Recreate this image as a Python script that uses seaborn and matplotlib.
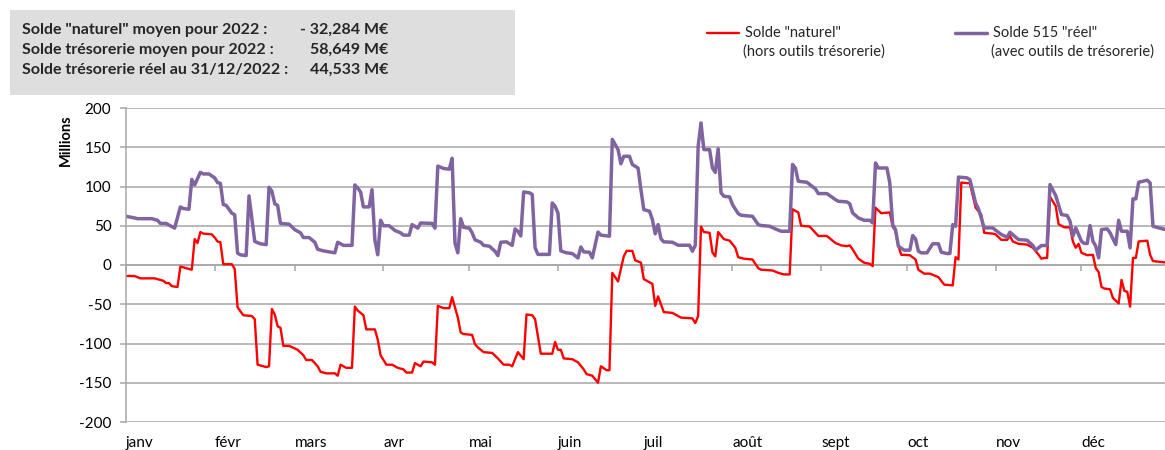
import matplotlib
matplotlib.use("Agg")
import matplotlib.pyplot as plt
import matplotlib.dates as mdates
from matplotlib.lines import Line2D
from matplotlib.patches import Rectangle
import numpy as np
import pandas as pd
import seaborn as sns

# ---- Données (jour de l'année 2022, 0 = 1er janvier ; montants en millions d'euros) ----
jours_naturel = [
    0, 3, 5, 10, 11, 13, 14, 15, 16, 18, 19, 21, 23, 24, 25, 26, 27, 30, 31, 32,
    33, 34, 37, 38, 39, 40, 41, 44, 45, 46, 47, 49, 50, 51, 52, 53, 54, 55, 57, 60,
    62, 63, 65, 67, 68, 70, 73, 74, 75, 77, 79, 80, 81, 83, 84, 87, 88, 89, 91, 93,
    95, 97, 98, 100, 101, 103, 104, 107, 108, 109, 111, 113, 114, 116, 117, 118, 121, 122, 123, 125,
    128, 130, 132, 134, 135, 137, 139, 140, 142, 143, 145, 149, 150, 151, 152, 153, 156, 158, 160, 161,
    163, 165, 166, 168, 169, 170, 172, 174, 175, 177, 178, 180, 181, 183, 184, 185, 186, 188, 191, 194,
    198, 199, 200, 201, 202, 204, 205, 206, 207, 209, 211, 213, 214, 216, 219, 221, 222, 226, 228, 230,
    232, 233, 235, 236, 239, 241, 242, 245, 248, 250, 252, 253, 254, 256, 258, 260, 261, 262, 264, 267,
    268, 269, 270, 271, 274, 276, 277, 279, 281, 283, 284, 286, 289, 290, 291, 292, 295, 297, 299, 300,
    303, 304, 306, 308, 309, 310, 312, 315, 317, 319, 320, 321, 322, 323, 325, 326, 328, 330, 331, 332,
    333, 334, 336, 338, 339, 340, 341, 342, 344, 345, 347, 348, 349, 350, 351, 352, 353, 354, 357, 358,
    359, 364,
]
solde_naturel = [
    -14, -14, -17, -17, -18, -20, -23, -23, -27, -28, -2, -4, -6, 33, 28, 42, 40, 39, 35, 30,
    29, 1, 1, -5, -54, -59, -64, -65, -69, -127, -128, -130, -129, -56, -63, -78, -80, -103, -103, -108,
    -115, -121, -121, -129, -136, -138, -138, -141, -127, -131, -131, -53, -58, -64, -82, -82, -95, -115, -127, -127,
    -131, -133, -137, -137, -125, -129, -123, -124, -127, -52, -55, -55, -41, -67, -86, -88, -89, -101, -105, -111,
    -112, -119, -127, -127, -129, -111, -120, -63, -64, -69, -113, -113, -98, -108, -108, -119, -120, -124, -133, -139,
    -141, -150, -129, -134, -134, -10, -21, 11, 18, 18, 6, 3, -18, -22, -24, -52, -40, -60, -61, -67,
    -68, -74, -65, 49, 42, 41, 16, 11, 42, 33, 31, 22, 10, 8, 7, -4, -6, -7, -10, -12,
    -12, 71, 67, 50, 49, 41, 37, 37, 28, 25, 24, 25, 20, 8, 3, 1.5, -1.5, 73, 66, 67,
    49, 43, 24, 13, 12.5, 7, -6, -11, -11, -14, -15.5, -25, -26, 10, 7, 105, 104, 73, 64, 41,
    40, 39, 32, 32, 37, 30, 27, 26, 22, 13, 8, 9, 9, 87, 75, 52, 48, 48, 30, 22,
    27, 15.5, 12.5, 13, -4, -9, -28, -30, -31, -42, -49, -19, -33, -34, -53, 9, 9, 30, 31, 13,
    5, 3,
]

jours_reel = [
    0, 3, 4, 9, 11, 12, 14, 16, 17, 19, 20, 22, 23, 24, 26, 27, 29, 31, 32, 33,
    34, 35, 37, 38, 39, 40, 42, 43, 45, 47, 49, 50, 51, 52, 53, 54, 57, 59, 61, 62,
    64, 66, 67, 69, 73, 74, 76, 79, 80, 81, 82, 83, 85, 86, 87, 88, 89, 90, 92, 94,
    96, 97, 99, 100, 102, 103, 107, 108, 109, 111, 113, 114, 115, 116, 117, 118, 120, 121, 122, 124,
    125, 127, 129, 130, 131, 133, 135, 136, 137, 138, 139, 141, 142, 143, 144, 148, 149, 150, 151, 152,
    154, 156, 158, 159, 160, 162, 163, 165, 166, 169, 170, 172, 173, 174, 176, 177, 179, 180, 181, 183,
    184, 185, 186, 187, 188, 191, 193, 197, 198, 199, 200, 201, 202, 204, 205, 206, 207, 208, 209, 211,
    212, 214, 215, 219, 221, 222, 225, 227, 229, 232, 233, 234, 235, 238, 241, 242, 245, 248, 249, 252,
    253, 254, 256, 258, 260, 261, 262, 263, 266, 267, 268, 269, 270, 272, 274, 275, 276, 277, 278, 280,
    282, 284, 285, 287, 288, 289, 290, 291, 294, 295, 297, 298, 300, 303, 304, 306, 308, 309, 311, 312,
    315, 317, 318, 320, 322, 323, 325, 327, 329, 330, 331, 332, 334, 335, 336, 337, 338, 339, 340, 341,
    343, 344, 346, 347, 348, 350, 351, 352, 353, 354, 357, 358, 359, 361, 364,
]
solde_reel = [
    62, 60, 59, 59, 57, 53, 53, 49, 47, 74, 72, 71, 109, 102, 118, 116, 116, 111, 105, 104,
    77, 76, 66, 64, 15, 13, 12, 88, 30, 27, 26, 99, 94, 78, 76, 53, 52, 45, 41, 35,
    35, 29, 20, 18, 15.5, 29, 25, 25, 102, 98, 93, 74, 74, 96, 32, 13, 57, 50, 50, 44,
    41, 38, 38, 51.5, 47, 53.5, 53, 47, 126, 123, 122, 136, 28, 15.5, 59, 48, 47, 41, 32, 29,
    25, 24, 17.5, 12, 29, 29.5, 25, 46, 43, 37, 93, 92, 90, 22, 13.5, 13.5, 79, 75, 66, 18,
    15.5, 14.6, 9, 23, 16.7, 16.3, 9, 42, 38, 36.7, 160, 147, 129, 138.5, 138.5, 128, 123.5, 96, 70.6, 68.5,
    58, 39.7, 51.5, 33.3, 29.5, 29, 25.2, 25.2, 17.6, 25, 151, 181, 147, 147, 123.6, 118, 148, 92, 87.6, 86.7,
    77, 65.5, 63.4, 62, 51.5, 50.3, 49.4, 46, 43, 43, 128, 123.6, 106.7, 105.4, 97, 91, 91, 83.3, 81.2, 80.4,
    78, 66.4, 60, 57, 57, 53.6, 130, 123.6, 123.6, 104.5, 51.5, 45, 24, 18.9, 18.9, 37.5, 33.3, 17.6, 15.5, 15.5,
    27, 27, 16.3, 14.6, 14.6, 51.5, 49.4, 112, 111, 108.8, 79, 71.5, 47.3, 47.3, 44.3, 38.8, 35.4, 41.8, 35.4, 32.4,
    31.6, 24.8, 18.9, 24.8, 24.8, 102.4, 88.4, 64.3, 63, 55.8, 36.7, 47.3, 30.3, 27.4, 27.4, 50.3, 30.3, 24, 9.1, 45.2,
    46, 41, 26, 57, 43, 43, 21.8, 84.2, 84.2, 105.4, 108, 104.5, 49.4, 47.3, 44.5,
]

mois = ["janv", "févr", "mars", "avr", "mai", "juin",
        "juil", "août", "sept", "oct", "nov", "déc"]

resume_libelles = [
    'Solde "naturel" moyen pour 2022 :',
    "Solde trésorerie moyen pour 2022 :",
    "Solde trésorerie réel au 31/12/2022 :",
]
resume_valeurs = ["- 32,284 M€", "58,649 M€", "44,533 M€"]

legende_titres = ['Solde "naturel"', 'Solde 515 "réel"']
legende_details = ["(hors outils trésorerie)", "(avec outils de trésorerie)"]

ROUGE = "#FF0000"
VIOLET = "#8064A2"
GRILLE = "#A6A6A6"

# ---- Style ----
sns.set_style("white")
plt.rcParams["font.family"] = ["Lato", "DejaVu Sans"]
plt.rcParams["axes.unicode_minus"] = False

debut = pd.Timestamp("2022-01-01")
df_naturel = pd.DataFrame({
    "date": debut + pd.to_timedelta(jours_naturel, unit="D"),
    "solde": solde_naturel,
})
df_reel = pd.DataFrame({
    "date": debut + pd.to_timedelta(jours_reel, unit="D"),
    "solde": solde_reel,
})

W, H = 1165, 450
fig = plt.figure(figsize=(W / 100, H / 100), dpi=100)
ax = fig.add_axes([126 / W, 28 / H, 1 - 126 / W, 314 / H])

sns.lineplot(data=df_naturel, x="date", y="solde", ax=ax, color=ROUGE, lw=1.7)
sns.lineplot(data=df_reel, x="date", y="solde", ax=ax, color=VIOLET, lw=2.5)

# Axe vertical
ax.set_ylim(-200, 200)
ax.set_yticks(np.arange(-200, 201, 50))
ax.yaxis.grid(True, color=GRILLE, lw=1.1)
ax.xaxis.grid(False)
ax.set_axisbelow(True)
for cote in ["top", "right", "bottom"]:
    ax.spines[cote].set_visible(False)
ax.spines["left"].set_color(GRILLE)
ax.spines["left"].set_linewidth(1.1)
ax.tick_params(axis="y", left=True, length=4.5, width=1.1, color=GRILLE,
               pad=6, labelsize=11, labelcolor="#000000")
ax.set_ylabel("Millions", fontweight="bold", fontsize=10.5, color="#000000")
ax.yaxis.set_label_coords(-0.051, 0.898)

# Axe horizontal : libellés des mois en bas, graduations sur la ligne du zéro
debuts_mois = pd.date_range("2022-01-01", periods=12, freq="MS")
ax.set_xlim(debut + pd.Timedelta(hours=12), debut + pd.Timedelta(days=363.2))
ax.set_xticks(debuts_mois)
ax.set_xticklabels(mois, ha="left")
ax.tick_params(axis="x", bottom=True, length=0, pad=10, labelsize=11,
               labelcolor="#000000")
ax.set_xlabel("")

axe_zero = ax.secondary_xaxis(0.5)
axe_zero.set_alignment("bottom")
axe_zero.set_xticks(mdates.date2num(debuts_mois))
axe_zero.tick_params(axis="x", length=4, width=1.1, color=GRILLE,
                     direction="out", labelbottom=False, labeltop=False)
axe_zero.spines["bottom"].set_color(GRILLE)
axe_zero.spines["bottom"].set_linewidth(1.1)

# Encadré des moyennes
fig.add_artist(Rectangle((10 / W, 1 - 95 / H), 505 / W, 85 / H,
                         transform=fig.transFigure, facecolor="#DEDEDE",
                         edgecolor="none", zorder=0))
for i, (lib, val) in enumerate(zip(resume_libelles, resume_valeurs)):
    y = 1 - (30 + 20 * i) / H
    fig.text(22 / W, y, lib, fontsize=11.5, fontweight="bold",
             ha="left", va="center")
    fig.text(388 / W, y, val, fontsize=11.5, fontweight="bold",
             ha="right", va="center")

# Légende
for x_trait, couleur, lw, titre, detail in [
    (707, ROUGE, 1.7, legende_titres[0], legende_details[0]),
    (955, VIOLET, 2.5, legende_titres[1], legende_details[1]),
]:
    fig.add_artist(Line2D([x_trait / W, (x_trait + 32) / W],
                          [1 - 33 / H, 1 - 33 / H],
                          transform=fig.transFigure, color=couleur, lw=lw))
    fig.text((x_trait + 38) / W, 1 - 33 / H, titre, fontsize=10.5,
             ha="left", va="center")
    fig.text((x_trait + 36) / W, 1 - 52 / H, detail, fontsize=10.5,
             ha="left", va="center")

fig.savefig("out.png", dpi=100)
